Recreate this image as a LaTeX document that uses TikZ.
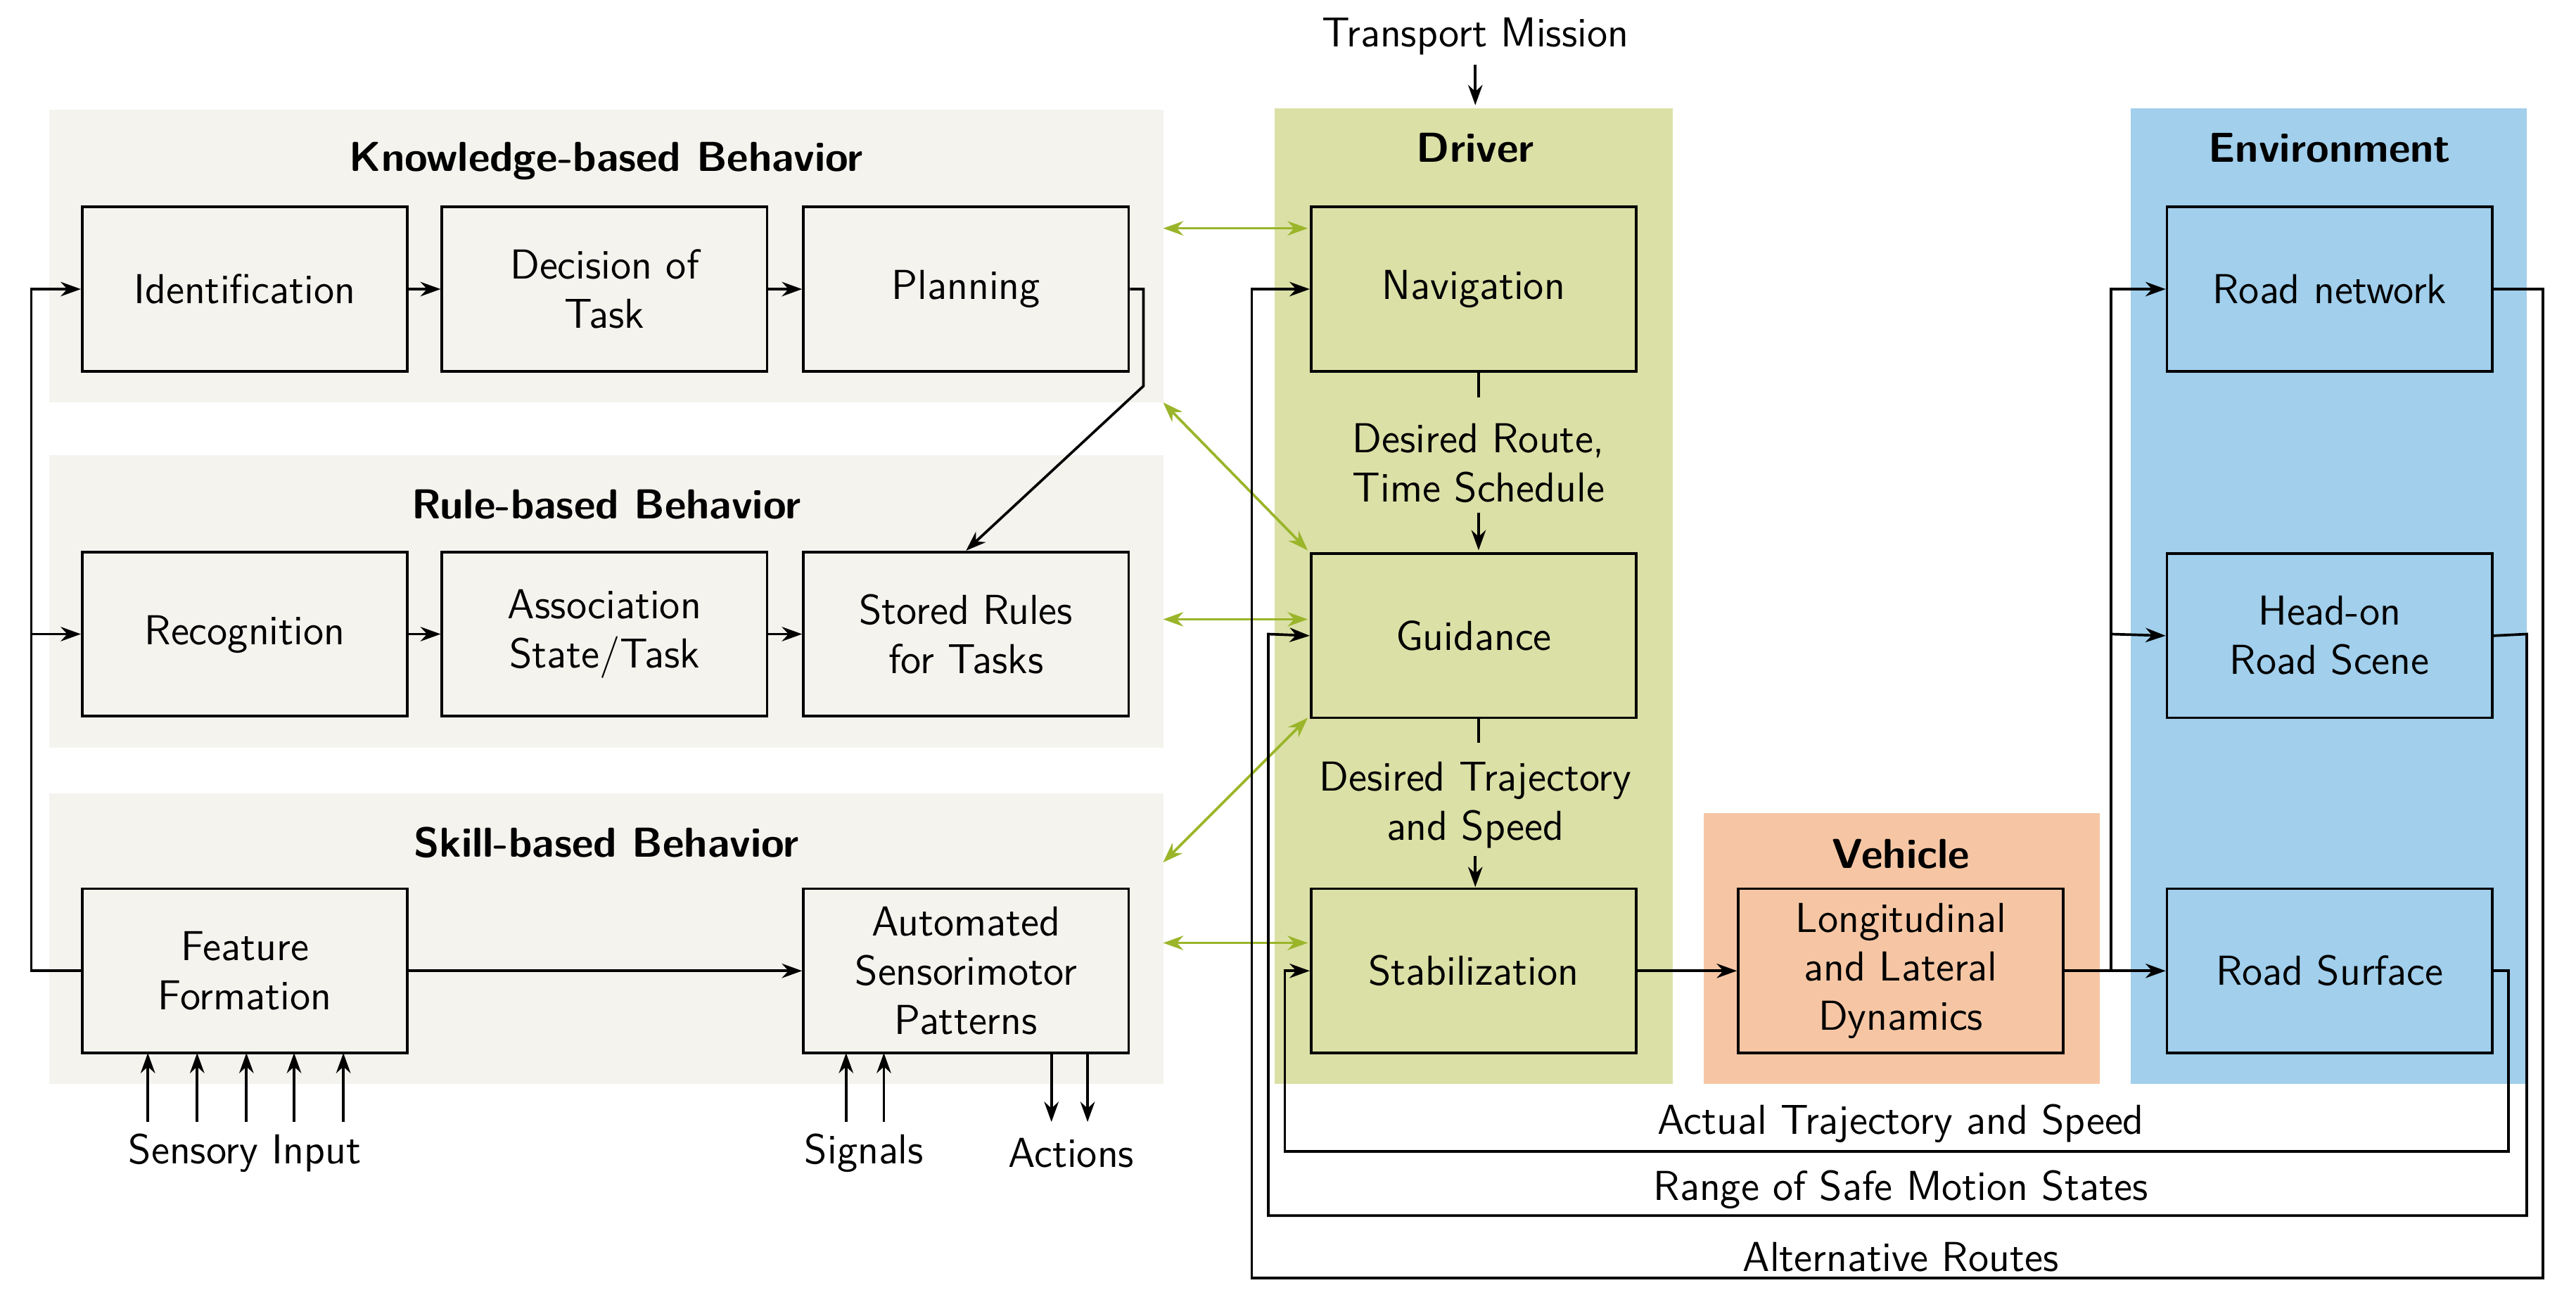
\documentclass[tikz,border=0pt]{standalone}
\usetikzlibrary{arrows.meta}
\definecolor{panel}{HTML}{F4F3EE}
\definecolor{drv}{HTML}{DBE0A6}
\definecolor{veh}{HTML}{F6C6A4}
\definecolor{env}{HTML}{A1CFEC}
\definecolor{grn}{HTML}{9AB52A}
\begin{document}
\begin{tikzpicture}[x=0.02cm,y=-0.02cm,
  every node/.style={font=\sffamily\fontsize{14.5}{17}\selectfont,align=center},
  box/.style={draw,line width=0.9pt,minimum width=3.96cm,minimum height=2cm,inner sep=0pt},
  ttl/.style={font=\sffamily\bfseries\fontsize{14.5}{17}\selectfont},
  lbl/.style={inner sep=1pt},
  arr/.style={-{Stealth[length=7pt,width=5pt]},line width=0.9pt},
  garr/.style={{Stealth[length=7pt,width=5pt]}-{Stealth[length=7pt,width=5pt]},line width=0.9pt,grn}]
\useasboundingbox (0,0) rectangle (1568,801);
% panels
\fill[panel] (30,67) rectangle (708,245);
\fill[panel] (30,277) rectangle (708,455);
\fill[panel] (30,483) rectangle (708,660);
\fill[drv] (776,66) rectangle (1018,660);
\fill[veh] (1037,495) rectangle (1278,660);
\fill[env] (1297,66) rectangle (1538,660);
% titles
\node[ttl] (tk) at (369,98) {Knowledge-based Behavior};
\node[ttl] (tr) at (369,307) {Rule-based Behavior};
\node[ttl] (ts) at (369,513) {Skill-based Behavior};
\node[ttl] (td) at (898,90) {Driver};
\node[ttl] (tv) at (1157,520) {Vehicle};
\node[ttl] (te) at (1418,90) {Environment};
\node (tm) at (898,22) {Transport Mission};
% boxes
\node[box] (id) at (149,176) {Identification};
\node[box] (dec) at (368,176) {Decision of\\Task};
\node[box] (pl) at (588,176) {Planning};
\node[box] (rec) at (149,386) {Recognition};
\node[box] (as) at (368,386) {Association\\State/Task};
\node[box] (sr) at (588,386) {Stored Rules\\for Tasks};
\node[box] (ff) at (149,591) {Feature\\Formation};
\node[box] (au) at (588,591) {Automated\\Sensorimotor\\Patterns};
\node[box] (nav) at (897,176) {Navigation};
\node[box] (gui) at (897,387) {Guidance};
\node[box] (stab) at (897,591) {Stabilization};
\node[box] (lon) at (1157,591) {Longitudinal\\and Lateral\\Dynamics};
\node[box] (rn) at (1418,176) {Road network};
\node[box] (ho) at (1418,387) {Head-on\\Road Scene};
\node[box] (rs) at (1418,591) {Road Surface};
% transport mission
\draw[arr] (tm.south) -- (898,64);
% horizontal chains
\draw[arr] (id) -- (dec); \draw[arr] (dec) -- (pl);
\draw[arr] (rec) -- (as); \draw[arr] (as) -- (sr);
\draw[arr] (ff) -- (au);
\draw[arr] (pl.east) -- (696,176) -- (696,235) -- (sr.north);
% left loop
\coordinate (l1) at (19,591);
\draw[arr] (ff.west) -- (l1) -- (19,176) -- (id.west);
\draw[arr] (19,386) -- (rec.west);
% sensory
\foreach \x in {90,120,150,179,209} \draw[arr] (\x,683) -- (\x,641);
\node (si) at (149,702) {Sensory Input};
\foreach \x in {515,538} \draw[arr] (\x,683) -- (\x,641);
\node (sg) at (526,702) {Signals};
\foreach \x in {640,662} \draw[arr] (\x,641) -- (\x,683);
\node (ac) at (652,702) {Actions};
% green
\draw[garr] (708,139) -- (796,139);
\draw[garr] (708,245) -- (796,335);
\draw[garr] (708,377) -- (796,377);
\draw[garr] (708,525) -- (796,437);
\draw[garr] (708,574) -- (796,574);
% driver internal
\node (dr) at (900,282) {Desired Route,\\Time Schedule};
\draw[line width=0.9pt] (nav.south -| 900,0) -- (900,242);
\draw[arr] (900,312) -- (900,335);
\node (dt) at (898,490) {Desired Trajectory\\and Speed};
\draw[line width=0.9pt] (900,437) -- (900,452);
\draw[arr] (898,521) -- (898,540);
% vehicle
\draw[arr] (stab) -- (lon);
\draw[arr] (lon) -- (rs);
\draw[arr] (1285,591) -- (1285,176) -- (rn.west);
\draw[arr] (1285,386) -- (ho.west);
% feedback
\draw[arr] (rs.east) -- (1527,591) -- (1527,701) -- (782,701) -- (782,591) -- (stab.west);
\node (at) at (1157,684) {Actual Trajectory and Speed};
\draw[arr] (ho.east) -- (1538,386) -- (1538,740) -- (772,740) -- (772,386) -- (gui.west);
\node (rg) at (1157,724) {Range of Safe Motion States};
\draw[arr] (rn.east) -- (1548,176) -- (1548,778) -- (762,778) -- (762,176) -- (nav.west);
\node (ar) at (1157,765) {Alternative Routes};
\end{tikzpicture}
\end{document}
